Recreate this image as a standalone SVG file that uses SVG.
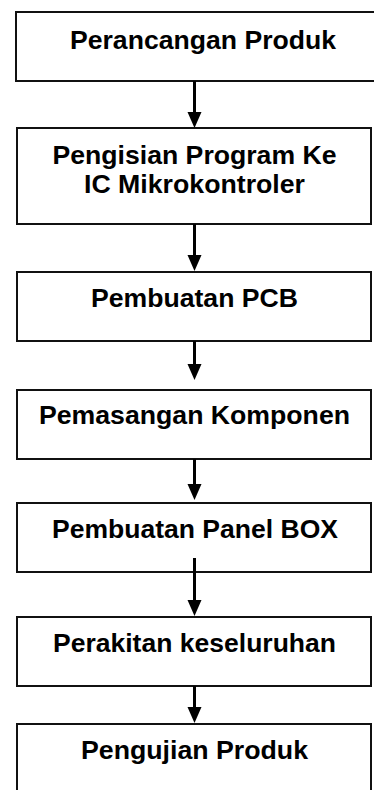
<svg xmlns="http://www.w3.org/2000/svg" width="374" height="790" viewBox="0 0 374 790">
<defs>
<style>
.box{fill:#fff;stroke:#111;stroke-width:2}
.lbl{font-family:"Liberation Sans",Arial,sans-serif;font-weight:bold;font-size:25px;fill:#000;text-anchor:middle}
.conn{stroke:#000;stroke-width:3;fill:none}
.head{fill:#000}
</style>
</defs>
<rect width="374" height="790" fill="#fff"/>
<g id="n1"><rect class="box" x="16" y="12" width="372" height="69"/><text class="lbl" x="203" y="49" textLength="266" lengthAdjust="spacingAndGlyphs">Perancangan Produk</text></g>
<g id="n2"><rect class="box" x="17" y="128" width="354" height="96"/><text class="lbl" x="194.5" y="164" textLength="284" lengthAdjust="spacingAndGlyphs">Pengisian Program Ke</text><text class="lbl" x="194.5" y="193" textLength="221" lengthAdjust="spacingAndGlyphs">IC Mikrokontroler</text></g>
<g id="n3"><rect class="box" x="17" y="272" width="354" height="69"/><text class="lbl" x="194.5" y="307" textLength="207" lengthAdjust="spacingAndGlyphs">Pembuatan PCB</text></g>
<g id="n4"><rect class="box" x="17" y="390" width="354" height="69"/><text class="lbl" x="194.5" y="424" textLength="311" lengthAdjust="spacingAndGlyphs">Pemasangan Komponen</text></g>
<g id="n5"><rect class="box" x="17" y="503" width="354" height="69"/><text class="lbl" x="195" y="538" textLength="286" lengthAdjust="spacingAndGlyphs">Pembuatan Panel BOX</text></g>
<g id="n6"><rect class="box" x="17" y="617" width="354" height="69"/><text class="lbl" x="194.5" y="652" textLength="283" lengthAdjust="spacingAndGlyphs">Perakitan keseluruhan</text></g>
<g id="n7"><rect class="box" x="17" y="724" width="354" height="80"/><text class="lbl" x="194.5" y="759" textLength="227" lengthAdjust="spacingAndGlyphs">Pengujian Produk</text></g>
<g id="connectors">
<line class="conn" x1="194.5" y1="81" x2="194.5" y2="114"/><polygon class="head" points="187.5,112 201.5,112 194.5,128"/>
<line class="conn" x1="194.5" y1="224" x2="194.5" y2="257"/><polygon class="head" points="187.5,255 201.5,255 194.5,271"/>
<line class="conn" x1="194.5" y1="341" x2="194.5" y2="366"/><polygon class="head" points="187.5,364 201.5,364 194.5,380"/>
<line class="conn" x1="194.5" y1="459" x2="194.5" y2="486"/><polygon class="head" points="187.5,484 201.5,484 194.5,500"/>
<line class="conn" x1="194.5" y1="558" x2="194.5" y2="602"/><polygon class="head" points="187.5,600 201.5,600 194.5,616"/>
<line class="conn" x1="194.5" y1="686" x2="194.5" y2="709"/><polygon class="head" points="187.5,707 201.5,707 194.5,723"/>
</g>
</svg>
